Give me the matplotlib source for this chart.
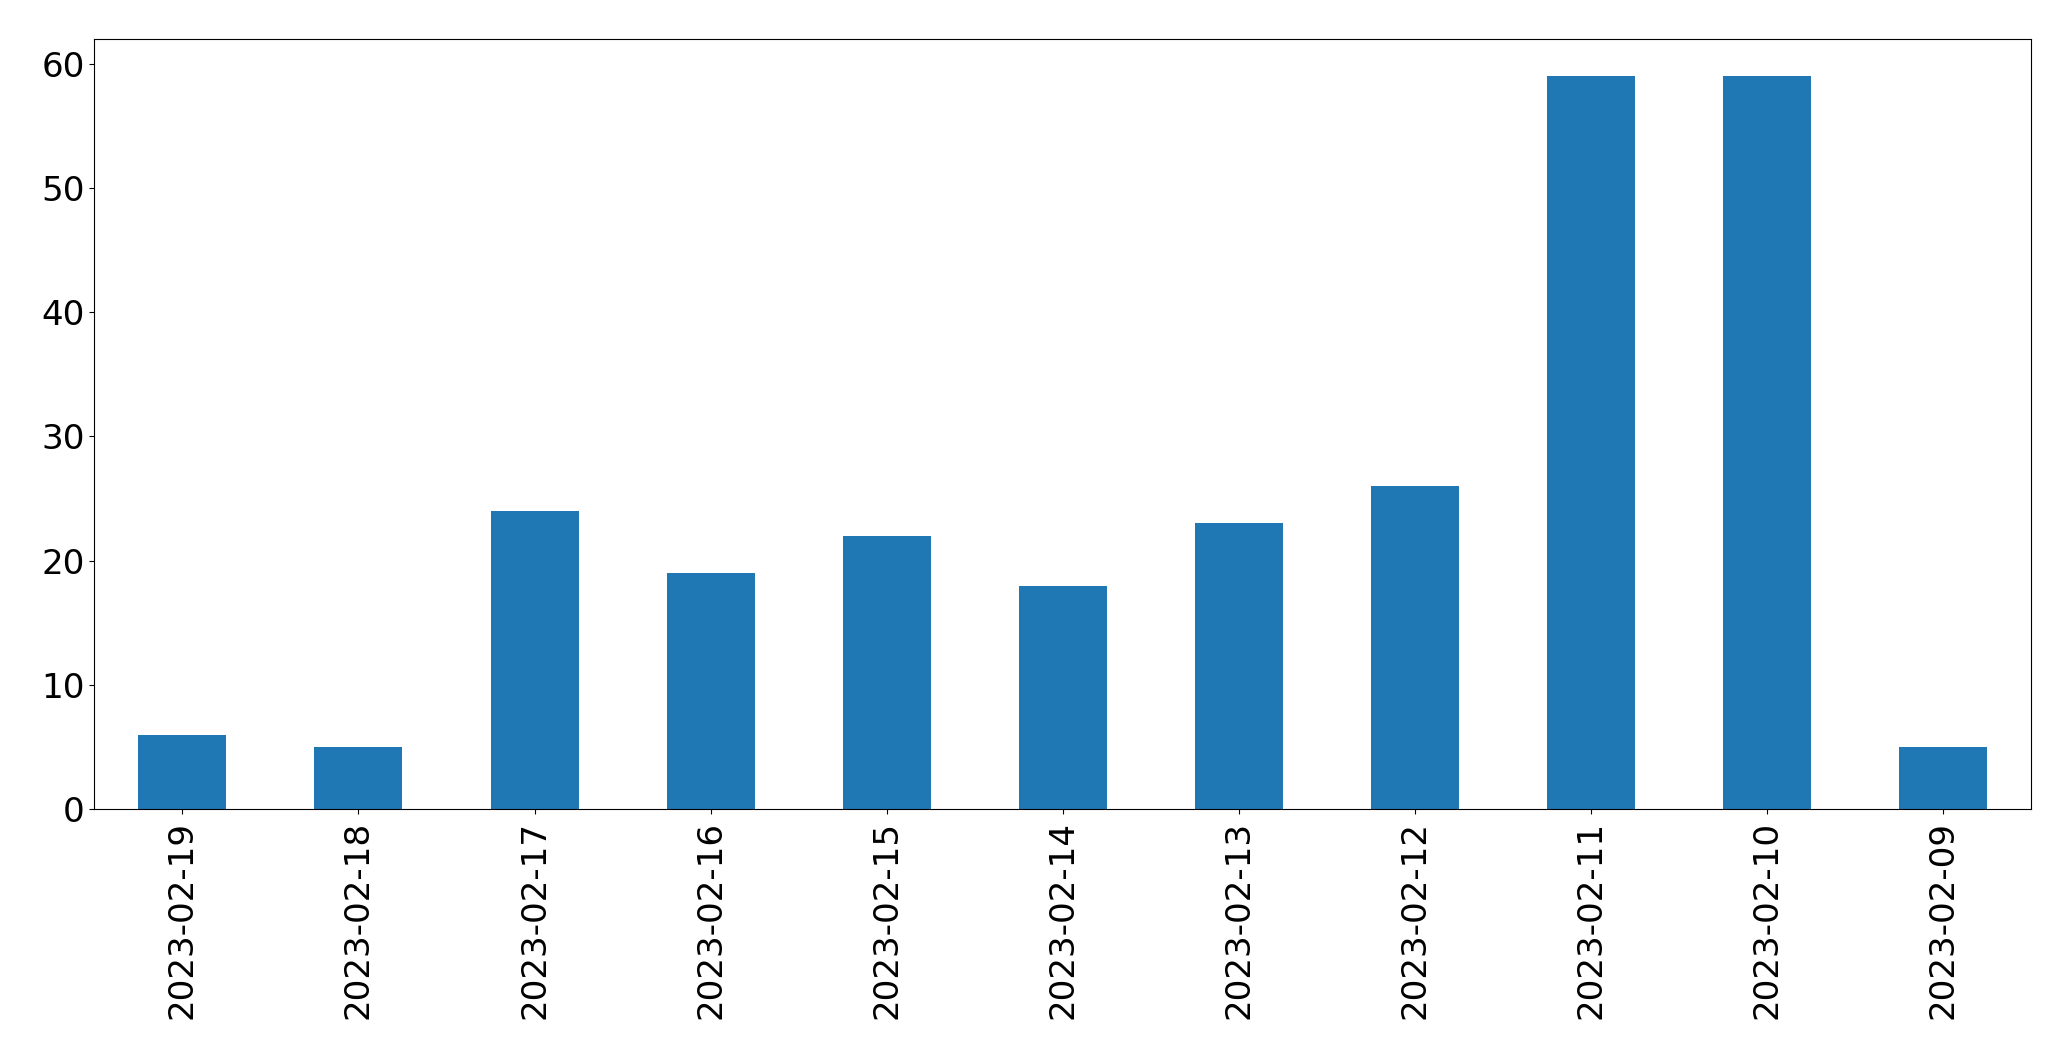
import matplotlib
matplotlib.use("Agg")
import matplotlib.pyplot as plt

dates = ["2023-02-19", "2023-02-18", "2023-02-17", "2023-02-16", "2023-02-15",
         "2023-02-14", "2023-02-13", "2023-02-12", "2023-02-11", "2023-02-10", "2023-02-09"]
counts = [6, 5, 24, 19, 22, 18, 23, 26, 59, 59, 5]

W, H = 2071, 1061
fig = plt.figure(figsize=(W / 100, H / 100), dpi=100)
left, right, top, bottom = 94.3, 2031.3, 39.3, 809.3
ax = fig.add_axes([left / W, 1 - bottom / H, (right - left) / W, (bottom - top) / H])
x = list(range(len(dates)))
ax.bar(x, counts, width=0.5, color="#1f77b4")
ax.set_xticks(x)
ax.set_xticklabels(dates, rotation=90)
ax.set_xlim(-0.5, len(dates) - 0.5)
ax.set_ylim(0, max(counts) * 1.05)
ax.tick_params(labelsize=24.6)
ax.tick_params(axis="x", pad=5)
fig.savefig("out.png", dpi=100)
